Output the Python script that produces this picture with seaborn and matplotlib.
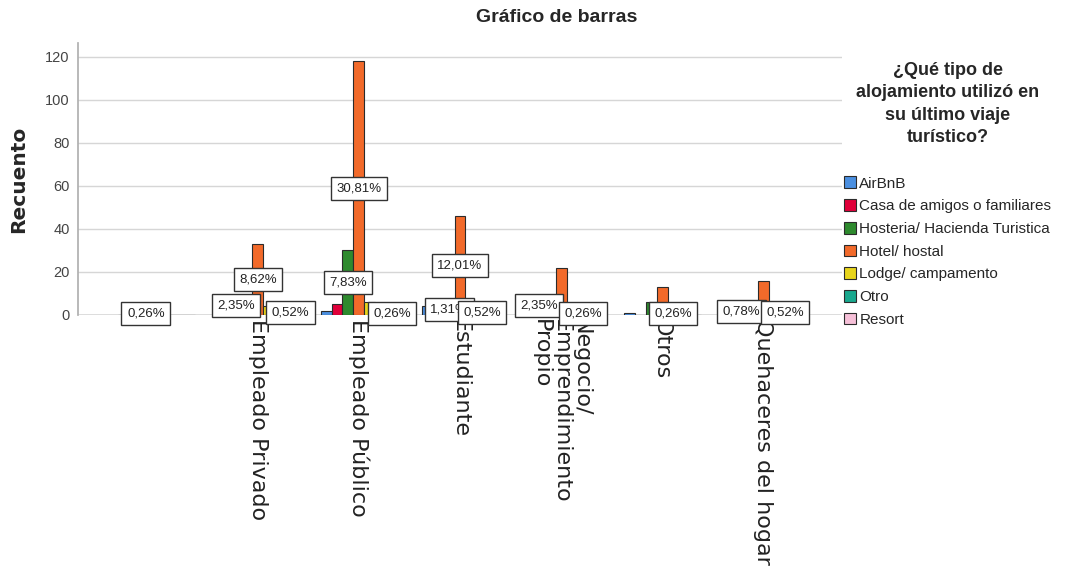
import matplotlib.pyplot as plt
import pandas as pd
import seaborn as sns

# categorias del eje x (la primera no tiene etiqueta en el original)
ocupaciones = [" ", "Empleado Privado", "Empleado Público", "Estudiante",
               "Negocio/\nEmprendimiento\nPropio", "Otros", "Quehaceres del hogar"]
alojamientos = ["AirBnB", "Casa de amigos o familiares", "Hosteria/ Hacienda Turistica",
                "Hotel/ hostal", "Lodge/ campamento", "Otro", "Resort"]
colores = ["#4a8fe0", "#e0003a", "#2e8a2e", "#f26a2a", "#e8d51c", "#19a88e", "#f6c0d8"]

# recuentos por alojamiento, en el orden de ocupaciones
airbnb = [0, 0, 2, 4, 0, 1, 0]
casa = [0, 9, 5, 0, 9, 0, 3]
hosteria = [1, 0, 30, 5, 0, 6, 0]
hotel = [0, 33, 118, 46, 22, 13, 16]
lodge = [0, 4, 6, 1, 0, 1, 0]
otro = [0, 0, 0, 2, 1, 0, 2]
resort = [0, 2, 1, 0, 0, 0, 0]

total_encuestados = 383

# barras que llevan etiqueta de porcentaje (ocupacion, alojamiento)
etiquetadas = [(0, 2), (1, 1), (1, 3), (1, 6), (2, 2), (2, 3), (2, 6),
               (3, 2), (3, 3), (3, 5), (4, 1), (4, 5), (5, 4), (6, 1), (6, 5)]

NARROW = ['Liberation Sans', 'DejaVu Sans']
WIDE = ['DejaVu Sans']


def build_df():
    series = [airbnb, casa, hosteria, hotel, lodge, otro, resort]
    rows = []
    for aloj, vals in zip(alojamientos, series):
        for ocu, v in zip(ocupaciones, vals):
            rows.append([ocu, aloj, v])
    return pd.DataFrame(rows, columns=['Ocupacion', 'Alojamiento', 'Recuento'])


def plot_barras():
    sns.set_theme(style='white')
    plt.rcParams['font.family'] = NARROW
    df = build_df()

    fig = plt.figure(figsize=(10.66, 5.71), dpi=100)
    ax = fig.add_axes([78 / 1066, 1 - 315 / 571, (842 - 78) / 1066, 272 / 571])

    sns.barplot(data=df, x='Ocupacion', y='Recuento', hue='Alojamiento',
                order=ocupaciones, hue_order=alojamientos, palette=colores,
                saturation=1, width=0.76, edgecolor='#2b2b2b', linewidth=0.8,
                errorbar=None, ax=ax, zorder=3)

    ax.set_ylim(0, 126.5)
    ax.set_xlim(-0.78, 6.78)
    ax.set_yticks(range(0, 121, 20))
    ax.yaxis.grid(True, color='#d6d6d6', linewidth=1, zorder=0)
    ax.axhline(0, color='#333333', linewidth=0.9, zorder=2)
    for s in ['top', 'right', 'bottom']:
        ax.spines[s].set_visible(False)
    ax.spines['left'].set_color('#b0b0b0')
    ax.tick_params(axis='y', length=0, labelsize=10.5, labelcolor='#444444', pad=6)
    ax.tick_params(axis='x', length=0, pad=3)
    ax.set_xticks(range(len(ocupaciones)))
    ax.set_xticklabels(ocupaciones, rotation=270, ha='center', va='top',
                       multialignment='left', linespacing=1.0,
                       family=WIDE, fontsize=16, color='#222222')
    ax.set_xlabel('')
    ax.set_ylabel('Recuento', family=WIDE, fontsize=14.5, fontweight='bold', labelpad=12)

    for ocu_i, aloj_i in etiquetadas:
        bar = ax.containers[aloj_i][ocu_i]
        h = bar.get_height()
        txt = f"{h / total_encuestados * 100:.2f}%".replace('.', ',')
        ax.text(bar.get_x() + bar.get_width() / 2, h / 2, txt, ha='center', va='center',
                fontsize=9.5, color='#222222', zorder=5,
                bbox=dict(boxstyle='square,pad=0.42', fc='white', ec='#333333', lw=1))

    handles, labels = ax.get_legend_handles_labels()
    ax.get_legend().remove()
    leg = fig.legend(handles, labels,
                     title='¿Qué tipo de\nalojamiento utilizó en\nsu último viaje\nturístico?\n',
                     loc='upper left', bbox_to_anchor=(838 / 1066, 1 - 56 / 571),
                     frameon=False, prop={'family': NARROW, 'size': 11},
                     title_fontproperties={'family': NARROW, 'size': 13, 'weight': 'bold'},
                     handlelength=0.8, handleheight=0.8, handletextpad=0.2,
                     labelspacing=0.56, borderaxespad=0)
    leg.get_title().set_multialignment('center')
    leg.get_title().set_linespacing(1.4)

    fig.text(557 / 1066, 1 - 18 / 571, 'Gráfico de barras', ha='center', va='center',
             family=NARROW, fontsize=14, fontweight='bold')

    plt.savefig('out.png', dpi=100)


if __name__ == '__main__':
    plot_barras()
